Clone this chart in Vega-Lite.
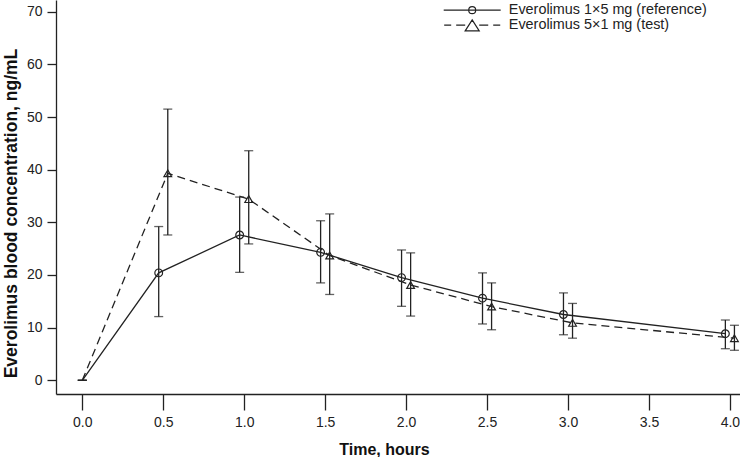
{
  "$schema": "https://vega.github.io/schema/vega-lite/v6.json",
  "width": 684,
  "height": 394,
  "autosize": {"type": "none"},
  "padding": {"left": 56, "top": 0, "right": 0, "bottom": 63},
  "config": {
    "view": {"stroke": null},
    "font": "Liberation Sans",
    "axis": {
      "grid": false,
      "domainColor": "#222",
      "domainWidth": 1.3,
      "tickColor": "#222",
      "tickWidth": 1.3,
      "labelColor": "#222",
      "labelFont": "Liberation Sans",
      "labelFontSize": 14,
      "titleFont": "Liberation Sans",
      "titleFontWeight": "bold",
      "titleColor": "#111"
    }
  },
  "data": {
    "values": [
      {"series": "Everolimus 1×5 mg (reference)", "time": 0, "mean": 0, "lo": 0, "hi": 0},
      {"series": "Everolimus 1×5 mg (reference)", "time": 0.472, "mean": 20.4, "lo": 12.1, "hi": 29.2},
      {"series": "Everolimus 1×5 mg (reference)", "time": 0.972, "mean": 27.6, "lo": 20.5, "hi": 34.8},
      {"series": "Everolimus 1×5 mg (reference)", "time": 1.472, "mean": 24.3, "lo": 18.5, "hi": 30.3},
      {"series": "Everolimus 1×5 mg (reference)", "time": 1.972, "mean": 19.5, "lo": 14.05, "hi": 24.75},
      {"series": "Everolimus 1×5 mg (reference)", "time": 2.472, "mean": 15.6, "lo": 10.7, "hi": 20.4},
      {"series": "Everolimus 1×5 mg (reference)", "time": 2.972, "mean": 12.5, "lo": 8.65, "hi": 16.6},
      {"series": "Everolimus 1×5 mg (reference)", "time": 3.972, "mean": 8.85, "lo": 6.0, "hi": 11.45},
      {"series": "Everolimus 5×1 mg (test)", "time": 0, "mean": 0, "lo": 0, "hi": 0},
      {"series": "Everolimus 5×1 mg (test)", "time": 0.528, "mean": 39.3, "lo": 27.6, "hi": 51.5},
      {"series": "Everolimus 5×1 mg (test)", "time": 1.028, "mean": 34.4, "lo": 25.9, "hi": 43.6},
      {"series": "Everolimus 5×1 mg (test)", "time": 1.528, "mean": 23.7, "lo": 16.3, "hi": 31.6},
      {"series": "Everolimus 5×1 mg (test)", "time": 2.028, "mean": 18.1, "lo": 12.2, "hi": 24.2},
      {"series": "Everolimus 5×1 mg (test)", "time": 2.528, "mean": 14.0, "lo": 9.6, "hi": 18.5},
      {"series": "Everolimus 5×1 mg (test)", "time": 3.028, "mean": 10.9, "lo": 8.0, "hi": 14.6},
      {"series": "Everolimus 5×1 mg (test)", "time": 4.028, "mean": 8.0, "lo": 5.7, "hi": 10.45}
    ]
  },
  "encoding": {
    "x": {
      "field": "time",
      "type": "quantitative",
      "scale": {"domain": [-0.1624, 4.0624], "nice": false, "zero": false},
      "axis": {
        "title": "Time, hours",
        "values": [0, 0.5, 1, 1.5, 2, 2.5, 3, 3.5, 4],
        "format": ".1f",
        "tickSize": 16,
        "labelPadding": 5,
        "titleFontSize": 16,
        "titleX": 328,
        "titleY": 60,
        "titleBaseline": "alphabetic"
      }
    },
    "y": {
      "field": "mean",
      "type": "quantitative",
      "scale": {"domain": [-2.6, 72.22], "nice": false, "zero": false},
      "axis": {"title": "Everolimus blood concentration, ng/mL", "values": [0, 10, 20, 30, 40, 50, 60, 70], "tickSize": 9, "labelPadding": 5, "titlePadding": 6, "titleFontSize": 17.5, "titleY": 213}
    }
  },
  "layer": [
    {
      "mark": {"type": "errorbar", "color": "#222", "thickness": 1.3, "ticks": {"size": 9, "color": "#222", "thickness": 1.3}},
      "encoding": {
        "y": {
          "field": "lo",
          "type": "quantitative",
          "scale": {"domain": [-2.6, 72.22], "nice": false, "zero": false},
          "axis": {"title": "Everolimus blood concentration, ng/mL", "values": [0, 10, 20, 30, 40, 50, 60, 70], "tickSize": 9, "labelPadding": 5, "titlePadding": 6, "titleFontSize": 17.5, "titleY": 213}
        },
        "y2": {"field": "hi"},
        "detail": {"field": "series"}
      }
    },
    {
      "transform": [{"filter": "datum.series === 'Everolimus 1×5 mg (reference)'"}],
      "mark": {"type": "line", "color": "#222", "strokeWidth": 1.3}
    },
    {
      "transform": [{"filter": "datum.series === 'Everolimus 5×1 mg (test)'"}],
      "mark": {"type": "line", "color": "#222", "strokeWidth": 1.3, "strokeDash": [8, 5]}
    },
    {
      "transform": [{"filter": "datum.time > 0 && datum.series === 'Everolimus 1×5 mg (reference)'"}],
      "mark": {"type": "point", "shape": "circle", "filled": false, "color": "#222", "strokeWidth": 1.2, "opacity": 1, "size": 60}
    },
    {
      "transform": [{"filter": "datum.time > 0 && datum.series === 'Everolimus 5×1 mg (test)'"}],
      "mark": {"type": "point", "shape": "triangle-up", "filled": false, "color": "#222", "strokeWidth": 1.2, "opacity": 1, "size": 60}
    },
    {
      "transform": [{"filter": "datum.time < 0"}],
      "mark": {"type": "point", "filled": false, "color": "#222", "size": 60},
      "encoding": {
        "shape": {
          "field": "series",
          "type": "nominal",
          "scale": {
            "domain": ["Everolimus 1×5 mg (reference)", "Everolimus 5×1 mg (test)"],
            "range": [
              "M-4.75,0H4.75M-0.58,0A0.58,0.58 0 1,0 0.58,0A0.58,0.58 0 1,0 -0.58,0Z",
              "M-4.67,0H-3.5M-2.67,0H-1.17M1.17,0H2.67M3.5,0H4.67M-1.17,0.95L0,-0.88L1.17,0.95Z"
            ]
          },
          "legend": {
            "title": null,
            "orient": "none",
            "legendX": 409,
            "legendY": 3,
            "labelFontSize": 14.4,
            "labelColor": "#222",
            "labelFont": "Liberation Sans",
            "labelLimit": 400,
            "symbolSize": 144,
            "symbolOpacity": 1,
            "symbolStrokeWidth": 1.2,
            "symbolStrokeColor": "#222",
            "symbolFillColor": "transparent",
            "labelOffset": 29.4,
            "rowPadding": 0
          }
        }
      }
    }
  ]
}
